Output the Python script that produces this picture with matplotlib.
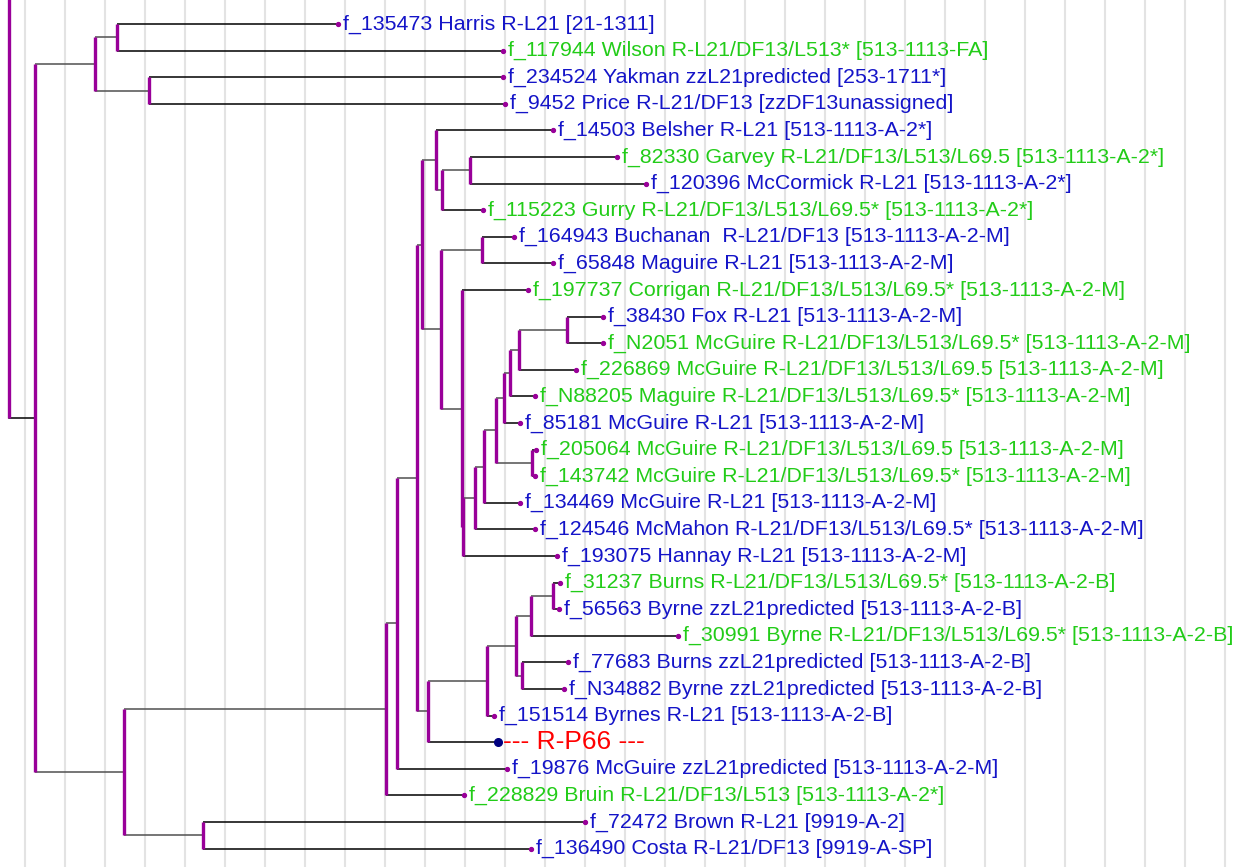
#!/usr/bin/env python3
import matplotlib
matplotlib.use('Agg')
import matplotlib.pyplot as plt

# leaves, top to bottom
labels = [
    'f_135473 Harris R-L21 [21-1311]',
    'f_117944 Wilson R-L21/DF13/L513* [513-1113-FA]',
    'f_234524 Yakman zzL21predicted [253-1711*]',
    'f_9452 Price R-L21/DF13 [zzDF13unassigned]',
    'f_14503 Belsher R-L21 [513-1113-A-2*]',
    'f_82330 Garvey R-L21/DF13/L513/L69.5 [513-1113-A-2*]',
    'f_120396 McCormick R-L21 [513-1113-A-2*]',
    'f_115223 Gurry R-L21/DF13/L513/L69.5* [513-1113-A-2*]',
    'f_164943 Buchanan  R-L21/DF13 [513-1113-A-2-M]',
    'f_65848 Maguire R-L21 [513-1113-A-2-M]',
    'f_197737 Corrigan R-L21/DF13/L513/L69.5* [513-1113-A-2-M]',
    'f_38430 Fox R-L21 [513-1113-A-2-M]',
    'f_N2051 McGuire R-L21/DF13/L513/L69.5* [513-1113-A-2-M]',
    'f_226869 McGuire R-L21/DF13/L513/L69.5 [513-1113-A-2-M]',
    'f_N88205 Maguire R-L21/DF13/L513/L69.5* [513-1113-A-2-M]',
    'f_85181 McGuire R-L21 [513-1113-A-2-M]',
    'f_205064 McGuire R-L21/DF13/L513/L69.5 [513-1113-A-2-M]',
    'f_143742 McGuire R-L21/DF13/L513/L69.5* [513-1113-A-2-M]',
    'f_134469 McGuire R-L21 [513-1113-A-2-M]',
    'f_124546 McMahon R-L21/DF13/L513/L69.5* [513-1113-A-2-M]',
    'f_193075 Hannay R-L21 [513-1113-A-2-M]',
    'f_31237 Burns R-L21/DF13/L513/L69.5* [513-1113-A-2-B]',
    'f_56563 Byrne zzL21predicted [513-1113-A-2-B]',
    'f_30991 Byrne R-L21/DF13/L513/L69.5* [513-1113-A-2-B]',
    'f_77683 Burns zzL21predicted [513-1113-A-2-B]',
    'f_N34882 Byrne zzL21predicted [513-1113-A-2-B]',
    'f_151514 Byrnes R-L21 [513-1113-A-2-B]',
    '--- R-P66 ---',
    'f_19876 McGuire zzL21predicted [513-1113-A-2-M]',
    'f_228829 Bruin R-L21/DF13/L513 [513-1113-A-2*]',
    'f_72472 Brown R-L21 [9919-A-2]',
    'f_136490 Costa R-L21/DF13 [9919-A-SP]',
]
# g = green (tested further), b = blue, r = reference marker
groups = ['b', 'g', 'b', 'b', 'b', 'g', 'b', 'g', 'b', 'b', 'g', 'b', 'g', 'g',
          'g', 'b', 'g', 'g', 'b', 'b', 'b', 'g', 'b', 'g', 'b', 'b', 'b', 'r',
          'b', 'g', 'b', 'b']
# distance of each leaf tip from the left edge
leaf_dist = [338, 503, 503, 505, 553, 617, 646, 483, 514, 553, 528, 603, 603,
             576, 535, 520, 536, 535, 520, 535, 557, 560, 559, 678, 568, 564,
             494, 498, 507, 464, 585, 531]

# internal nodes: name, distance, children (leaf index or node name)
node_names = ['hw', 'yp', 'top', 'K', 'J', 'H', 'L', 'V', 'U', 'T', 'R', 'S',
              'Q', 'P', 'O', 'N', 'M', 'I', 'G', 'Yb', 'W', 'X', 'F', 'E',
              'D', 'C', 'B', 'A', 'BB', 'bot', 'Z']
node_dist = [117, 149, 95, 470, 442, 436, 482, 567, 519, 510, 504, 532,
             496, 484, 475, 463, 462, 441, 422, 553, 531, 522, 516, 487,
             428, 417, 397, 386, 203, 124, 35]
node_children = [[0, 1], [2, 3], ['hw', 'yp'], [5, 6], ['K', 7], [4, 'J'],
                 [8, 9], [11, 12], ['V', 13], ['U', 14], ['T', 15], [16, 17],
                 ['R', 'S'], ['Q', 18], ['P', 19], ['O', 20], [10, 'N'],
                 ['L', 'M'], ['H', 'I'], [21, 22], ['Yb', 23], [24, 25],
                 ['W', 'X'], ['F', 26], ['E', 27], ['G', 'D'], ['C', 28],
                 ['B', 29], [30, 31], ['A', 'BB'], ['top', 'bot']]
root_dist = 9

text_colors = {'b': '#1414C8', 'g': '#22CC18', 'r': '#FF0000'}
vcol = '#990099'

fig = plt.figure(figsize=(12.38, 8.67), dpi=100)
ax = fig.add_axes([0, 0, 1, 1])
ax.set_xlim(0, 1238)
ax.set_ylim((867 - 24) / 26.6, -24 / 26.6)
ax.axis('off')

for gx in range(25, 1238, 40):
    ax.axvline(gx, color='#E3E3E3', lw=1.5, zorder=0)

pos = {}
for i, d in enumerate(leaf_dist):
    pos[i] = (d, i)

for name, d, kids in zip(node_names, node_dist, node_children):
    ys = [pos[k][1] for k in kids]
    y = sum(ys) / len(ys)
    pos[name] = (d, y)
    for k in kids:
        kx, ky = pos[k]
        c = 'black' if isinstance(k, int) else '#505050'
        ax.plot([d, kx], [ky, ky], color=c, lw=1.1, zorder=2,
                solid_capstyle='butt')
    ax.plot([d, d], [min(ys), max(ys)], color=vcol, lw=2.4, zorder=3,
            solid_capstyle='butt')

# root stem runs off the top of the picture
zx, zy = pos['Z']
ax.plot([root_dist, zx], [zy, zy], color='black', lw=1.1, zorder=2)
ax.plot([root_dist, root_dist], [-5, zy], color=vcol, lw=2.4, zorder=3,
        solid_capstyle='butt')

for i, (lab, g, d) in enumerate(zip(labels, groups, leaf_dist)):
    if g == 'r':
        ax.plot(d, i, 'o', color='#000080', ms=5.5, zorder=4)
        ax.text(d + 5, i, lab, color=text_colors[g], fontsize=19,
                family='Liberation Sans', va='center', ha='left')
    else:
        ax.plot(d, i, 'o', color=vcol, ms=2.8, zorder=4)
        ax.text(d + 5, i, lab, color=text_colors[g], fontsize=15.4,
                family='Liberation Sans', va='center', ha='left')

fig.savefig('out.png', dpi=100)
